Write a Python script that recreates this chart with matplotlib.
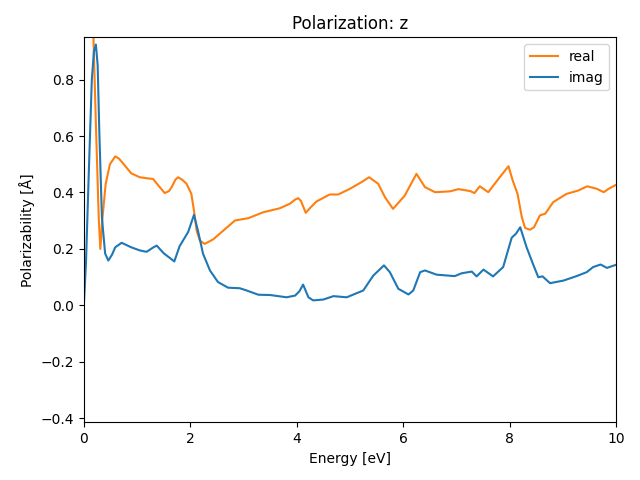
import matplotlib
matplotlib.use("Agg")
import matplotlib.pyplot as plt

# values
energy_real = [0.0, 0.05, 0.10, 0.15, 0.18, 0.23, 0.28, 0.31, 0.35, 0.41, 0.49, 0.59, 0.66, 0.75,
               0.89, 1.05, 1.20, 1.30, 1.40, 1.52, 1.60, 1.65, 1.72, 1.77, 1.85, 1.93, 2.02, 2.07,
               2.12, 2.18, 2.27, 2.43, 2.62, 2.84, 3.09, 3.37, 3.68, 3.87, 3.97, 4.03, 4.08, 4.17,
               4.25, 4.37, 4.62, 4.78, 5.00, 5.22, 5.36, 5.53, 5.66, 5.81, 6.03, 6.25, 6.41, 6.60,
               6.88, 7.04, 7.26, 7.34, 7.44, 7.60, 7.79, 7.98, 8.06, 8.15, 8.23, 8.29, 8.38, 8.46,
               8.57, 8.67, 8.82, 9.07, 9.29, 9.46, 9.64, 9.77, 9.86, 10.0]
real = [1.00, 1.05, 1.10, 1.05, 0.95, 0.62, 0.31, 0.20, 0.31, 0.43, 0.50, 0.528, 0.52, 0.50,
        0.468, 0.454, 0.45, 0.448, 0.425, 0.398, 0.405, 0.419, 0.445, 0.454, 0.445, 0.431, 0.395, 0.336,
        0.265, 0.23, 0.218, 0.234, 0.265, 0.301, 0.309, 0.330, 0.344, 0.36, 0.375, 0.380, 0.37, 0.328,
        0.345, 0.368, 0.393, 0.393, 0.413, 0.437, 0.454, 0.431, 0.383, 0.342, 0.389, 0.466, 0.419, 0.401,
        0.404, 0.412, 0.405, 0.398, 0.422, 0.401, 0.448, 0.493, 0.442, 0.395, 0.313, 0.275, 0.268, 0.277,
        0.319, 0.325, 0.366, 0.395, 0.407, 0.422, 0.413, 0.401, 0.413, 0.427]

energy_imag = [0.0, 0.04, 0.088, 0.15, 0.19, 0.226, 0.26, 0.29, 0.34, 0.40, 0.46, 0.53, 0.59, 0.71,
               0.89, 1.05, 1.18, 1.30, 1.37, 1.50, 1.70, 1.80, 1.96, 2.07, 2.15, 2.24, 2.37, 2.52,
               2.71, 2.93, 3.06, 3.28, 3.50, 3.81, 3.97, 4.05, 4.12, 4.22, 4.31, 4.50, 4.69, 4.94,
               5.25, 5.44, 5.64, 5.75, 5.91, 6.10, 6.19, 6.32, 6.41, 6.63, 6.97, 7.10, 7.29, 7.38,
               7.51, 7.69, 7.88, 8.04, 8.12, 8.20, 8.32, 8.45, 8.54, 8.62, 8.76, 9.01, 9.26, 9.45,
               9.57, 9.71, 9.83, 10.0]
imag = [0.0, 0.15, 0.44, 0.80, 0.90, 0.924, 0.85, 0.62, 0.31, 0.184, 0.159, 0.18, 0.206, 0.222,
        0.206, 0.195, 0.19, 0.205, 0.212, 0.185, 0.156, 0.21, 0.26, 0.321, 0.26, 0.183, 0.124, 0.083,
        0.063, 0.061, 0.053, 0.038, 0.037, 0.029, 0.035, 0.05, 0.074, 0.029, 0.018, 0.021, 0.033, 0.029,
        0.053, 0.106, 0.142, 0.118, 0.059, 0.039, 0.053, 0.118, 0.124, 0.109, 0.104, 0.114, 0.120, 0.103,
        0.127, 0.103, 0.136, 0.24, 0.254, 0.277, 0.206, 0.142, 0.10, 0.103, 0.079, 0.088, 0.104, 0.118,
        0.136, 0.145, 0.133, 0.144]

fig, ax = plt.subplots(figsize=(6.4, 4.8), dpi=100)
ax.plot(energy_real, real, color="C1", label="real")
ax.plot(energy_imag, imag, color="C0", label="imag")
ax.set_xlim(0, 10)
ax.set_ylim(-0.414, 0.949)
ax.set_xlabel("Energy [eV]")
ax.set_ylabel("Polarizability [Å]")
ax.set_title("Polarization: z")
ax.legend(loc="upper right")
fig.subplots_adjust(left=0.131, right=0.9625, bottom=0.120, top=0.922)
fig.savefig("out.png")
